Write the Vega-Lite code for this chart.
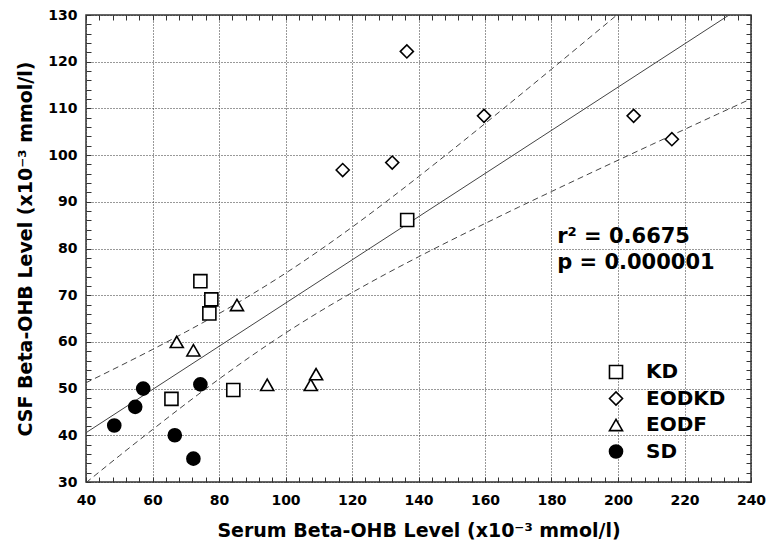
{
  "$schema": "https://vega.github.io/schema/vega-lite/v6.json",
  "width": 665,
  "height": 467,
  "autosize": {"type": "none"},
  "padding": {"left": 86, "top": 15, "right": 17, "bottom": 65},
  "background": "white",
  "config": {
    "view": {"stroke": "#333", "strokeWidth": 1.5},
    "font": "DejaVu Sans",
    "axis": {"labelFont": "DejaVu Sans", "titleFont": "DejaVu Sans"}
  },
  "datasets": {
    "fit": [{"x": 40, "y": 40.55}, {"x": 240, "y": 133.05}],
    "band": [
      {"x": 40, "y": 51.25, "side": "upper"}, {"x": 50, "y": 54.77, "side": "upper"}, {"x": 60, "y": 58.38, "side": "upper"},
      {"x": 70, "y": 62.13, "side": "upper"}, {"x": 80, "y": 66.06, "side": "upper"}, {"x": 90, "y": 70.24, "side": "upper"},
      {"x": 100, "y": 74.7, "side": "upper"}, {"x": 110, "y": 79.49, "side": "upper"}, {"x": 120, "y": 84.56, "side": "upper"},
      {"x": 130, "y": 89.88, "side": "upper"}, {"x": 140, "y": 95.38, "side": "upper"}, {"x": 150, "y": 101.02, "side": "upper"},
      {"x": 160, "y": 106.75, "side": "upper"}, {"x": 170, "y": 112.55, "side": "upper"}, {"x": 180, "y": 118.4, "side": "upper"},
      {"x": 190, "y": 124.29, "side": "upper"}, {"x": 200, "y": 130.2, "side": "upper"}, {"x": 210, "y": 136.15, "side": "upper"},
      {"x": 40, "y": 29.85, "side": "lower"}, {"x": 50, "y": 35.59, "side": "lower"}, {"x": 60, "y": 41.22, "side": "lower"},
      {"x": 70, "y": 46.73, "side": "lower"}, {"x": 80, "y": 52.04, "side": "lower"}, {"x": 90, "y": 57.12, "side": "lower"},
      {"x": 100, "y": 61.9, "side": "lower"}, {"x": 110, "y": 66.37, "side": "lower"}, {"x": 120, "y": 70.54, "side": "lower"},
      {"x": 130, "y": 74.48, "side": "lower"}, {"x": 140, "y": 78.22, "side": "lower"}, {"x": 150, "y": 81.84, "side": "lower"},
      {"x": 160, "y": 85.35, "side": "lower"}, {"x": 170, "y": 88.81, "side": "lower"}, {"x": 180, "y": 92.2, "side": "lower"},
      {"x": 190, "y": 95.57, "side": "lower"}, {"x": 200, "y": 98.9, "side": "lower"}, {"x": 210, "y": 102.21, "side": "lower"},
      {"x": 220, "y": 105.5, "side": "lower"}, {"x": 230, "y": 108.79, "side": "lower"}, {"x": 240, "y": 112.05, "side": "lower"}
    ],
    "pts": [
      {"x": 74.4, "y": 73.0, "group": "KD"}, {"x": 77.7, "y": 69.1, "group": "KD"}, {"x": 77.1, "y": 66.1, "group": "KD"},
      {"x": 65.7, "y": 47.8, "group": "KD"}, {"x": 84.3, "y": 49.7, "group": "KD"}, {"x": 136.6, "y": 86.1, "group": "KD"},
      {"x": 117.2, "y": 96.8, "group": "EODKD"}, {"x": 132.1, "y": 98.4, "group": "EODKD"}, {"x": 136.5, "y": 122.2, "group": "EODKD"},
      {"x": 159.7, "y": 108.4, "group": "EODKD"}, {"x": 204.7, "y": 108.4, "group": "EODKD"}, {"x": 216.2, "y": 103.4, "group": "EODKD"},
      {"x": 67.3, "y": 60.0, "group": "EODF"}, {"x": 72.3, "y": 58.2, "group": "EODF"}, {"x": 85.4, "y": 67.9, "group": "EODF"},
      {"x": 94.5, "y": 50.8, "group": "EODF"}, {"x": 107.6, "y": 50.8, "group": "EODF"}, {"x": 109.2, "y": 53.1, "group": "EODF"},
      {"x": 48.5, "y": 42.1, "group": "SD"}, {"x": 54.8, "y": 46.1, "group": "SD"}, {"x": 57.2, "y": 50.0, "group": "SD"},
      {"x": 66.7, "y": 40.0, "group": "SD"}, {"x": 72.3, "y": 35.0, "group": "SD"}, {"x": 74.4, "y": 50.9, "group": "SD"}
    ],
    "ann": [
      {"x": 181.7, "y": 81.2, "label": "r² = 0.6675"},
      {"x": 181.7, "y": 75.6, "label": "p = 0.000001"}
    ]
  },
  "layer": [
    {
      "data": {"name": "fit"},
      "mark": {"type": "line", "color": "#444", "strokeWidth": 1, "clip": true},
      "encoding": {
        "x": {"field": "x", "type": "quantitative", "scale": {"domain": [40, 240], "nice": false, "zero": false},
          "axis": {"orient": "bottom", "values": [40, 60, 80, 100, 120, 140, 160, 180, 200, 220, 240],
            "title": "Serum Beta-OHB Level (x10⁻³ mmol/l)", "labelFontWeight": "bold", "labelFontSize": 14, "labelColor": "#000",
            "labelPadding": 11, "labelFlush": false, "ticks": false, "domain": false, "grid": true, "gridColor": "#333", "gridDash": [1, 2],
            "titleFontSize": 19, "titleFontWeight": "bold", "titleColor": "#000", "titlePadding": 14}},
        "y": {"field": "y", "type": "quantitative", "scale": {"domain": [30, 130], "nice": false, "zero": false},
          "axis": {"orient": "left", "values": [30, 40, 50, 60, 70, 80, 90, 100, 110, 120, 130],
            "title": "CSF Beta-OHB Level (x10⁻³  mmol/l)", "labelFontWeight": "bold", "labelFontSize": 14, "labelColor": "#000",
            "labelPadding": 9, "labelFlush": false, "ticks": false, "domain": false, "grid": true, "gridColor": "#333", "gridDash": [1, 2],
            "titleFontSize": 19, "titleFontWeight": "bold", "titleColor": "#000", "titlePadding": 12}}
      }
    },
    {
      "data": {"name": "band"},
      "mark": {"type": "line", "color": "#444", "strokeWidth": 1, "strokeDash": [6, 4], "clip": true, "interpolate": "monotone"},
      "encoding": {
        "x": {"field": "x", "type": "quantitative", "scale": {"domain": [40, 240], "nice": false, "zero": false},
          "axis": {"orient": "bottom", "offset": -5, "values": [40,44,48,52,56,60,64,68,72,76,80,84,88,92,96,100,104,108,112,116,120,124,128,132,136,140,144,148,152,156,160,164,168,172,176,180,184,188,192,196,200,204,208,212,216,220,224,228,232,236,240],
            "labels": false, "grid": false, "domain": false, "ticks": true, "tickSize": 5, "tickColor": "#333", "title": null}},
        "y": {"field": "y", "type": "quantitative", "scale": {"domain": [30, 130], "nice": false, "zero": false},
          "axis": {"orient": "left", "offset": -5, "values": [30,32,34,36,38,40,42,44,46,48,50,52,54,56,58,60,62,64,66,68,70,72,74,76,78,80,82,84,86,88,90,92,94,96,98,100,102,104,106,108,110,112,114,116,118,120,122,124,126,128,130],
            "labels": false, "grid": false, "domain": false, "ticks": true, "tickSize": 5, "tickColor": "#333", "title": null}},
        "detail": {"field": "side", "type": "nominal"}
      }
    },
    {
      "data": {"name": "pts"},
      "mark": {"type": "point", "filled": true, "strokeWidth": 1.6, "size": 170, "opacity": 1},
      "encoding": {
        "x": {"field": "x", "type": "quantitative", "scale": {"domain": [40, 240], "nice": false, "zero": false},
          "axis": {"orient": "top", "offset": -5, "values": [40,44,48,52,56,60,64,68,72,76,80,84,88,92,96,100,104,108,112,116,120,124,128,132,136,140,144,148,152,156,160,164,168,172,176,180,184,188,192,196,200,204,208,212,216,220,224,228,232,236,240],
            "labels": false, "grid": false, "domain": false, "ticks": true, "tickSize": 5, "tickColor": "#333", "title": null}},
        "y": {"field": "y", "type": "quantitative", "scale": {"domain": [30, 130], "nice": false, "zero": false},
          "axis": {"orient": "right", "offset": -5, "values": [30,32,34,36,38,40,42,44,46,48,50,52,54,56,58,60,62,64,66,68,70,72,74,76,78,80,82,84,86,88,90,92,94,96,98,100,102,104,106,108,110,112,114,116,118,120,122,124,126,128,130],
            "labels": false, "grid": false, "domain": false, "ticks": true, "tickSize": 5, "tickColor": "#333", "title": null}},
        "shape": {"field": "group", "type": "nominal",
          "scale": {"domain": ["KD", "EODKD", "EODF", "SD"], "range": ["square", "diamond", "triangle-up", "circle"]},
          "legend": {"title": null, "orient": "none", "legendX": 520, "legendY": 347, "padding": 0,
            "labelFont": "DejaVu Sans", "labelFontWeight": "bold", "labelFontSize": 20, "labelColor": "#000",
            "symbolSize": 170, "symbolStrokeWidth": 1.6, "rowPadding": 6.5, "labelOffset": 20}},
        "fill": {"field": "group", "type": "nominal",
          "scale": {"domain": ["KD", "EODKD", "EODF", "SD"], "range": ["white", "white", "white", "black"]},
          "legend": {"title": null, "orient": "none", "legendX": 520, "legendY": 347, "padding": 0,
            "labelFont": "DejaVu Sans", "labelFontWeight": "bold", "labelFontSize": 20, "labelColor": "#000",
            "symbolSize": 170, "symbolStrokeWidth": 1.6, "rowPadding": 6.5, "labelOffset": 20}},
        "stroke": {"field": "group", "type": "nominal",
          "scale": {"domain": ["KD", "EODKD", "EODF", "SD"], "range": ["black", "black", "black", "black"]},
          "legend": {"title": null, "orient": "none", "legendX": 520, "legendY": 347, "padding": 0,
            "labelFont": "DejaVu Sans", "labelFontWeight": "bold", "labelFontSize": 20, "labelColor": "#000",
            "symbolSize": 170, "symbolStrokeWidth": 1.6, "rowPadding": 6.5, "labelOffset": 20}}
      }
    },
    {
      "data": {"name": "ann"},
      "mark": {"type": "text", "align": "left", "baseline": "alphabetic", "font": "DejaVu Sans", "fontWeight": "bold", "fontSize": 21, "color": "#000"},
      "encoding": {
        "x": {"field": "x", "type": "quantitative", "scale": {"domain": [40, 240], "nice": false, "zero": false}, "axis": null},
        "y": {"field": "y", "type": "quantitative", "scale": {"domain": [30, 130], "nice": false, "zero": false}, "axis": null},
        "text": {"field": "label", "type": "nominal"}
      }
    }
  ],
  "resolve": {"axis": {"x": "independent", "y": "independent"}}
}
